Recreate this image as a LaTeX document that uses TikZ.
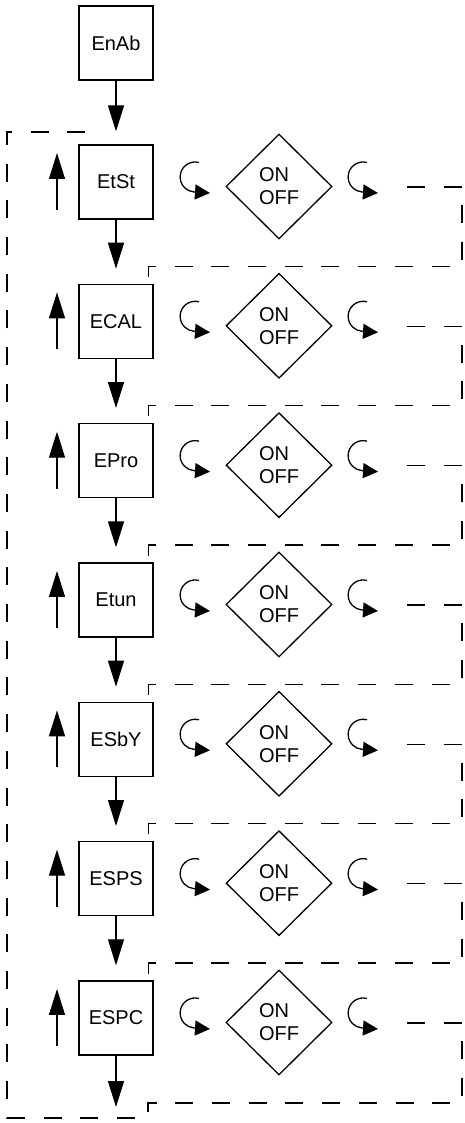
\documentclass[tikz,border=0pt]{standalone}
\usepackage{fontspec}
\setmainfont{Liberation Sans}
\usepackage{tikz}
\usetikzlibrary{arrows.meta,shapes.geometric,positioning}

\begin{document}
\begin{tikzpicture}[x=1pt,y=1pt,
     line width=1.3pt,
     menu/.style={draw,minimum size=74pt,inner sep=0pt,font=\fontsize{20}{23}\selectfont},
     onoff/.style={draw,diamond,minimum width=106pt,minimum height=105pt,inner sep=0pt,align=left,font=\fontsize{20}{23}\selectfont},
     flow/.style={-{Triangle[length=26pt,width=16pt]}},
     curl/.style={-{Triangle[length=15pt,width=15pt]}},
     back/.style={dash pattern=on 18pt off 18.7pt}]
    \useasboundingbox (0,0) rectangle (465,-1123);
    \node[menu] (enab) at (116,-43) {EnAb};
    % one row per parameter
    \foreach \name [count=\i from 0] in {EtSt,ECAL,EPro,Etun,ESbY,ESPS,ESPC} {
      \pgfmathsetmacro{\yc}{-182-139.33*\i}
      \node[menu]  (b\i) at (116,\yc)     {\name};
      \node[onoff] (d\i) at (279,\yc-4.5) {ON\\OFF};
      \coordinate (u\i) at (57,\yc-28);
      \coordinate (v\i) at (57,\yc+29);
      \coordinate (p\i) at (199,\yc+19.5);
      \coordinate (q\i) at (210,\yc-11);
      \coordinate (s\i) at (367,\yc+19.5);
      \coordinate (t\i) at (378,\yc-11);
      \coordinate (r\i) at (407,\yc-5);
      \coordinate (c\i) at (462,\yc-84.33);
      \draw[flow] (u\i) -- (v\i);
      \draw[curl] (p\i) arc[start angle=75,end angle=265,radius=15pt] -- (q\i);
      \draw[curl] (s\i) arc[start angle=75,end angle=265,radius=15pt] -- (t\i);
    }
    \draw[flow] (enab) -- ([yshift=13pt]b0.north);
    \foreach \i in {0,...,5} {
      \pgfmathtruncatemacro{\j}{\i+1}
      \draw[flow] (b\i) -- ([yshift=15pt]b\j.north);
      \draw[back] (r\i) -| (c\i) -| ([xshift=-5pt]b\j.north east);
    }
    % return path
    \coordinate (e6)   at (116,-1107);
    \coordinate (turn) at (462,-1103);
    \coordinate (step) at (148,-1118);
    \coordinate (foot) at (7,-1118);
    \coordinate (head) at (99,-132);
    \draw[flow] (b6) -- (e6);
    \draw[back] (r6) -| (turn) -| (step) -- (foot) |- (head);
  \end{tikzpicture}
\end{document}
